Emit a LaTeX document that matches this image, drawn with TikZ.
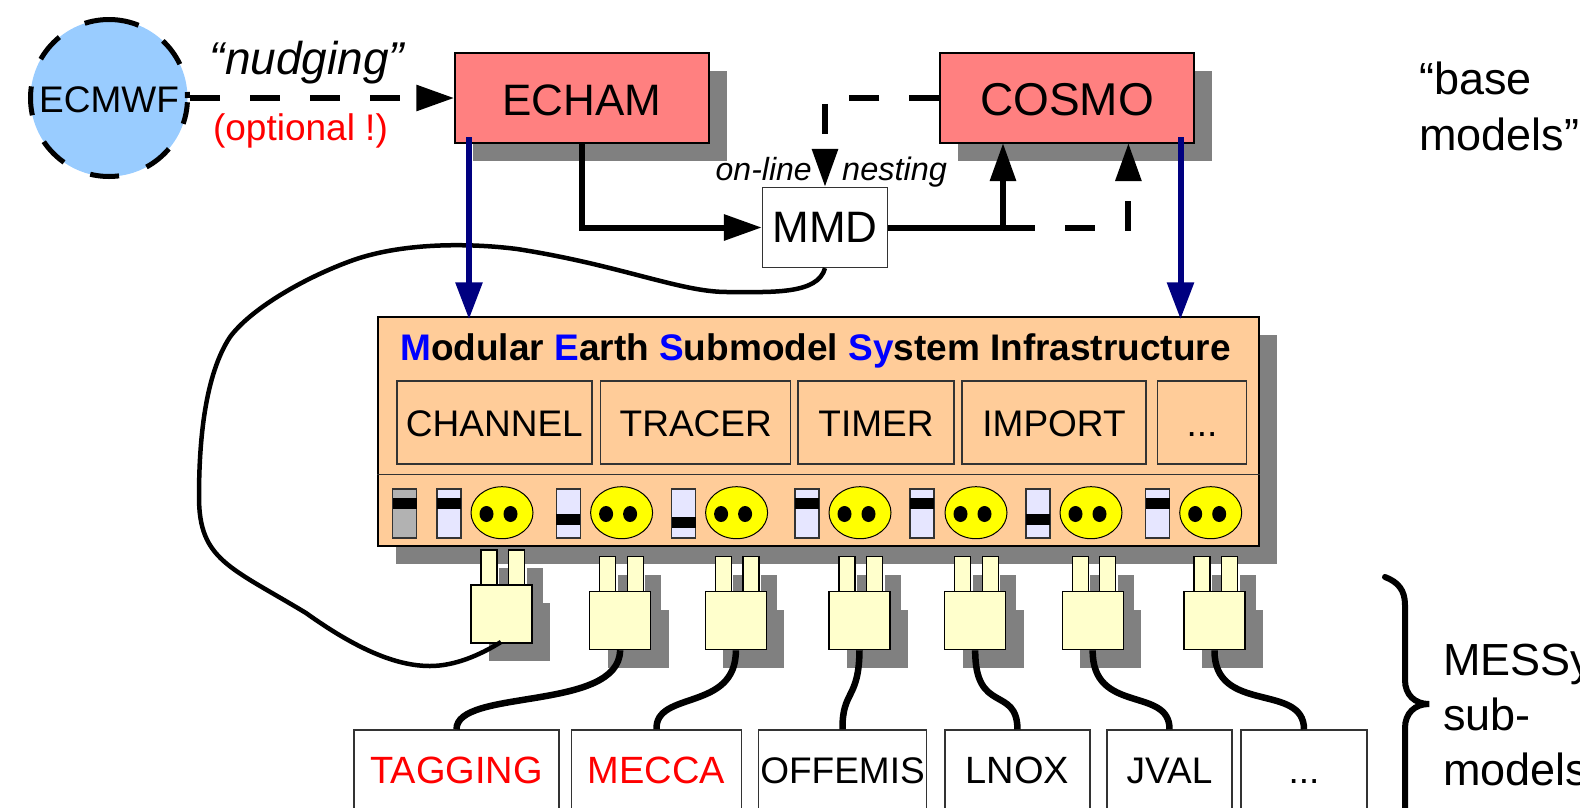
\documentclass[tikz,border=0pt]{standalone}
\usepackage{fontspec}
\usepackage{xcolor}
\usetikzlibrary{arrows.meta,shadows,shapes.geometric}
\setmainfont{Liberation Sans}

\definecolor{ecmwfblue}{HTML}{99CCFF}
\definecolor{modelred}{HTML}{FF8080}
\definecolor{shadowgray}{HTML}{808080}
\definecolor{messyorange}{HTML}{FFCC99}
\definecolor{switchblue}{HTML}{E6E6FF}
\definecolor{switchgray}{HTML}{B2B2B2}
\definecolor{plugyellow}{HTML}{FFFFCC}
\definecolor{socketyellow}{HTML}{FFFF00}
\definecolor{feednavy}{HTML}{000080}
\definecolor{titleblue}{HTML}{0000FF}
\definecolor{labelred}{HTML}{FF0000}

\newcommand{\sizept}[1]{\fontsize{#1}{#1}\selectfont}

\tikzset{
    boxshadow/.style={drop shadow={shadow xshift=18pt, shadow yshift=-18pt, fill=shadowgray, opacity=1}},
    base model/.style={draw=black, line width=1.5pt, fill=modelred, boxshadow, inner sep=0pt,
        minimum width=254pt, minimum height=90pt, text height=35pt, text depth=0pt},
    infra/.style={draw=black!80, line width=1.3pt, inner sep=0pt, minimum height=83pt,
        font=\sizept{37}, text height=27pt, text depth=0pt},
    submodel/.style={draw=black!80, line width=1.2pt, fill=white, inner sep=0pt, minimum height=80pt,
        font=\sizept{37}, text height=27pt, text depth=0pt},
    switchbox/.style={draw=black!80, line width=1.2pt, inner sep=0pt, minimum width=24pt, minimum height=49pt},
    switchband/.style={fill=black, inner sep=0pt, minimum width=24pt, minimum height=11pt},
    socket/.style={ellipse, draw=black, line width=1pt, fill=socketyellow, inner sep=0pt,
        minimum width=62pt, minimum height=52pt},
    plugbody/.style={draw=black, line width=1.2pt, fill=plugyellow, boxshadow, inner sep=0pt,
        minimum width=61pt, minimum height=58pt},
    prong/.style={draw=black, line width=1.2pt, fill=plugyellow, boxshadow, inner sep=0pt,
        minimum width=16pt, minimum height=35pt},
    flow/.style={line width=6pt, -{Triangle[length=38pt, width=25pt]}},
    dashflow/.style={flow, dash pattern=on 30pt off 30pt},
    feed/.style={line width=6pt, draw=feednavy, -{Triangle[length=37pt, width=26pt, fill=feednavy]}, shorten >=-3pt},
    cable/.style={line width=6.5pt},
    plain text/.style={inner sep=0pt, anchor=base west},
}

\begin{document}
\begin{tikzpicture}[x=1pt, y=-1pt]
    \useasboundingbox (0,0) rectangle (1580,807);
    \clip (0,0) rectangle (1580,807);

    % Base models
    \node[circle, draw=black, line width=5pt, fill=ecmwfblue, inner sep=0pt, minimum size=157pt,
        dash pattern=on 6pt off 29pt on 29pt off 29pt on 55pt off 29pt on 29pt off 29pt on 29pt off 29pt on 29pt off 29pt on 29pt off 29pt on 29pt off 29pt on 22pt,
        font=\sizept{37}, text height=29pt, text depth=0pt] (ECMWF) at (109,98) {ECMWF};
    \node[base model, font=\sizept{44}] (ECHAM) at (582,98) {ECHAM};
    \node[base model, font=\sizept{46}] (COSMO) at (1067,98) {COSMO};
    \node[draw=black!80, line width=1.2pt, fill=white, inner sep=0pt, minimum width=125pt,
        minimum height=80pt, font=\sizept{44}] (MMD) at (825,227.5) {MMD};

    % Coupling arrows
    \coordinate (tipA) at (1003,143);
    \coordinate (tipB) at (1128.4,143);
    \coordinate (dashstart) at (1005,227.5);
    \draw[dashflow] (ECMWF.east) -- (ECHAM.west);
    \draw[dashflow] (COSMO.west) -| (MMD.north);
    \draw[flow] (ECHAM.south) |- (MMD.west);
    \draw[flow] (MMD.east) -| (tipA);
    \draw[dashflow] (dashstart) -| (tipB);

    % Labels on the arrows
    \node[plain text, anchor=base, font=\sizept{46}\itshape] (nudging) at (307,74) {“nudging”};
    \node[plain text, anchor=base, font=\sizept{37}, text=labelred] (optional) at (300.5,140) {(optional !)};
    \node[plain text, font=\sizept{32}\itshape] (online) at (715.5,180) {on-line};
    \node[plain text, font=\sizept{32.5}\itshape] (nesting) at (842,180) {nesting};

    % Infrastructure box
    \node[draw=black, line width=1.5pt, fill=messyorange, boxshadow, inner sep=0pt,
        minimum width=881pt, minimum height=229pt] (MESSy) at (818.5,431.5) {};
    \draw[black!80, line width=1.5pt] (MESSy.west |- 0,474.7) coordinate (split) -- (split -| MESSy.east);
    \node[plain text, font=\sizept{37}\bfseries] (title) at (400,360.7)
        {\textcolor{titleblue}{M}odular \textcolor{titleblue}{E}arth \textcolor{titleblue}{S}ubmodel \textcolor{titleblue}{Sy}stem Infrastructure};

    % Generic submodels
    \foreach \cx/\bw/\txt in {494.4/195/CHANNEL, 695.8/190/TRACER, 876/156/TIMER, 1054/184/IMPORT}
        \node[infra, minimum width=\bw pt] (\txt) at (\cx,422.5) {\txt};
    \node[infra, minimum width=89pt] (moreinfra) at (1202,422.5) {.{}.{}.};

    % Switches
    \foreach \n/\cx/\by/\col in {1/404.5/503.4/switchgray, 2/449/503.4/switchblue, 3/568.4/519/switchblue,
        4/683.5/522/switchblue, 5/807/503.4/switchblue, 6/922/503.4/switchblue,
        7/1038/519/switchblue, 8/1157.5/503.4/switchblue} {
        \node[switchbox, fill=\col] (switch\n) at (\cx,513.4) {};
        \node[switchband] (band\n) at (\cx,\by) {};
    }

    % Sockets
    \foreach \n/\cx in {1/502, 2/621.6, 3/736.6, 4/860, 5/976, 6/1091, 7/1210.7} {
        \node[socket] (socket\n) at (\cx,512.7) {};
        \fill ({\cx-15.5},514) ellipse (7 and 8);
        \fill ({\cx+8.5},514) ellipse (7 and 8);
    }

    % Plugs
    \foreach \n/\lx/\ty in {1/471/585, 2/589.6/591.7, 3/705.4/591.7, 4/829/591.7,
        5/944.7/591.7, 6/1062.2/591.7, 7/1184/591.7} {
        \node[prong] (prongA\n) at ({\lx+18},{\ty-17.5}) {};
        \node[prong] (prongB\n) at ({\lx+45.5},{\ty-17.5}) {};
        \node[plugbody] (plug\n) at ({\lx+30.5},{\ty+29}) {};
    }

    % Submodels
    \node[submodel, minimum width=205pt, text=labelred, font=\sizept{38}] (TAGGING) at (456.5,770) {TAGGING};
    \node[submodel, minimum width=170pt, text=labelred, font=\sizept{38}] (MECCA) at (656.5,770) {MECCA};
    \node[submodel, minimum width=168pt] (OFFEMIS) at (842.5,770) {OFFEMIS};
    \node[submodel, minimum width=145pt, font=\sizept{38}] (LNOX) at (1017.5,770) {LNOX};
    \node[submodel, minimum width=125pt] (JVAL) at (1169.5,770) {JVAL};
    \node[submodel, minimum width=126pt] (moresub) at (1304,770) {.{}.{}.};

    % Cables
    \draw[cable] (plug2.south) .. controls (619,712) and (456,688) .. (TAGGING.north);
    \draw[cable] (plug3.south) .. controls (736,712) and (655,690) .. (MECCA.north);
    \draw[cable] (plug4.south) .. controls (859,700) and (842,690) .. (OFFEMIS.north);
    \draw[cable] (plug5.south) .. controls (975,715) and (1017,685) .. (LNOX.north);
    \draw[cable] (plug6.south) .. controls (1092,715) and (1170,686) .. (JVAL.north);
    \draw[cable] (plug7.south) .. controls (1214,715) and (1304,682) .. (moresub.north);

    % Long cable from MMD
    \coordinate (plugin) at (501,642);
    \draw[line width=4.5pt] (MMD.south) .. controls (818,295) and (770,292) .. (727,292)
        .. controls (680,292) and (620,265) .. (517,249)
        .. controls (470,243) and (400,242) .. (348,262)
        .. controls (300,280) and (250,310) .. (230,337)
        .. controls (205,375) and (199,440) .. (199,497)
        .. controls (199,560) and (230,567) .. (306,613)
        .. controls (355,648) and (395,666) .. (430,666)
        .. controls (455,666) and (480,655) .. (plugin);

    % Blue feeds
    \coordinate (ECHAMout) at (469,137);
    \coordinate (COSMOout) at (1180.5,137);
    \draw[feed] (ECHAMout) -- (ECHAMout |- MESSy.north);
    \draw[feed] (COSMOout) -- (COSMOout |- MESSy.north);

    % Brace and side labels
    \coordinate (bracetop) at (1385,577);
    \coordinate (bracetip) at (1429,704);
    \coordinate (braceend) at (1405,830);
    \draw[line width=6pt, line cap=round] (bracetop) .. controls (1398,582) and (1405,590) .. (1405,605)
        -- (1405,680) .. controls (1405,695) and (1415,704) .. (bracetip)
        .. controls (1415,704) and (1405,713) .. (1405,728) -- (braceend);
    \node[inner sep=0pt, anchor=north west, align=left, font=\fontsize{45}{56}\selectfont] (basemodels) at (1419,62) {“base\\models”};
    \node[inner sep=0pt, anchor=north west, align=left, font=\fontsize{45}{55}\selectfont] (submodels) at (1443,644) {MESSy\\sub-\\models};
\end{tikzpicture}
\end{document}
